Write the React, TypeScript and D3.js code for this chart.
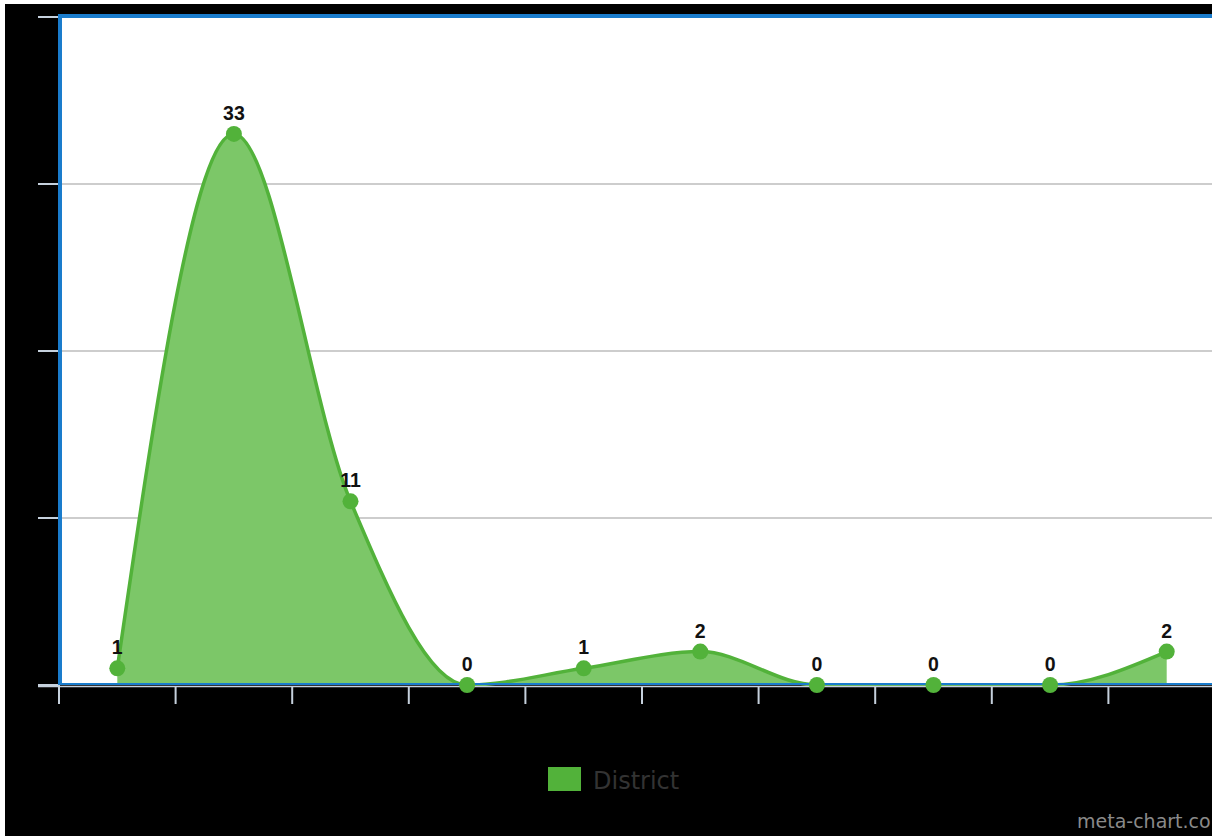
import React from "react";
import * as d3 from "d3";

const categories = ["1", "2", "3", "4", "5", "6", "7", "8", "9", "10"];
const values = [1, 33, 11, 0, 1, 2, 0, 0, 0, 2];
const yTicks = [0, 10, 20, 30, 40];
const seriesName = "District";

export default function App() {
  const W = 1212, H = 836;
  const left = 60, top = 17, bottom = 685;
  const bandW = 116.6;
  const x = d3.scaleBand<string>().domain(categories).range([left - 1, left - 1 + bandW * categories.length]).padding(0);
  const y = d3.scaleLinear().domain([0, 40]).range([bottom, top]);
  const cx = (c: string) => (x(c) as number) + x.bandwidth() / 2;
  const pts = categories.map((c, i) => ({ c, v: values[i] }));
  const area = d3.area<{ c: string; v: number }>().x(d => cx(d.c)).y0(y(0)).y1(d => y(d.v)).curve(d3.curveMonotoneX);
  const line = d3.line<{ c: string; v: number }>().x(d => cx(d.c)).y(d => y(d.v)).curve(d3.curveMonotoneX);
  const xTickPos = d3.range(categories.length + 1).map(i => x.range()[0] + i * x.step());

  return (
    <div style={{ position: "absolute", left: 0, top: 0, width: W, height: H }}>
      <svg width={W} height={H} style={{ display: "block" }}>
        <rect x={0} y={0} width={W} height={H} fill="#ffffff" />
        <rect x={5} y={4} width={W - 5} height={H - 4} fill="#000000" />
        <rect x={left} y={top} width={W - left} height={bottom - top} fill="#ffffff" />
        {yTicks.filter(t => t > 0 && t < 40).map(t => (
          <line key={"g" + t} x1={left} x2={W} y1={y(t)} y2={y(t)} stroke="#bdbdbd" strokeWidth={1.5} />
        ))}
        {yTicks.map(t => (
          <line key={"yt" + t} x1={38} x2={left} y1={y(t)} y2={y(t)} stroke="#c5d0dc" strokeWidth={2} />
        ))}
        <path d={area(pts) || ""} fill="#7cc768" />
        <path d={line(pts) || ""} fill="none" stroke="#52b23a" strokeWidth={3.5} />
        <line x1={left} x2={W} y1={bottom - 1} y2={bottom - 1} stroke="#1a7ccc" strokeWidth={2} />
        <line x1={38} x2={W} y1={bottom + 1.5} y2={bottom + 1.5} stroke="#c5d0dc" strokeWidth={1.5} />
        {xTickPos.map((p, i) => (
          <line key={"xt" + i} x1={p} x2={p} y1={bottom + 1} y2={bottom + 19} stroke="#c5d0dc" strokeWidth={2} />
        ))}
        <line x1={left} x2={left} y1={top - 3} y2={bottom} stroke="#1a7ccc" strokeWidth={4} />
        <line x1={left - 2} x2={W} y1={top - 1} y2={top - 1} stroke="#1a7ccc" strokeWidth={4} />
        {pts.map(d => (
          <circle key={"c" + d.c} cx={cx(d.c)} cy={y(d.v)} r={8} fill="#52b23a" />
        ))}
        {pts.map(d => (
          <text key={"t" + d.c} x={cx(d.c)} y={y(d.v) - 14} textAnchor="middle" fontFamily="Liberation Sans, Arial, sans-serif" fontWeight="bold" fontSize={19.5} fill="#111">{d.v}</text>
        ))}
        <rect x={548} y={767} width={33} height={24} fill="#52b23a" />
        <text x={593} y={789} fontFamily="DejaVu Sans, sans-serif" fontSize={24} fill="#333333">{seriesName}</text>
        <text x={1077} y={828} fontFamily="DejaVu Sans, sans-serif" fontSize={19} fill="#8a8a8a">meta-chart.co</text>
      </svg>
    </div>
  );
}
